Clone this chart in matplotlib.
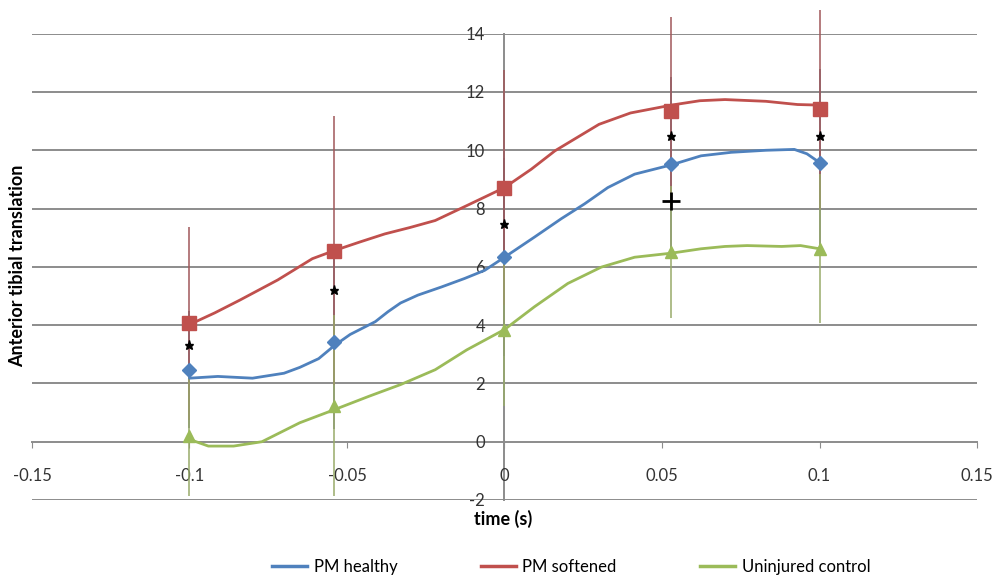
import matplotlib
matplotlib.use("Agg")
import matplotlib.pyplot as plt
from matplotlib.lines import Line2D

plt.rcParams["font.family"] = ["Lato", "DejaVu Sans"]

# sample times (s) and mean values at the markers
t_marks = [-0.1, -0.054, 0.0, 0.053, 0.1]
healthy = [2.47, 3.43, 6.33, 9.52, 9.58]
softened = [4.06, 6.56, 8.72, 11.36, 11.40]
control = [0.21, 1.24, 3.83, 6.50, 6.62]

# error bar half-widths
healthy_err = [2.0, 3.0, 3.4, 3.0, 3.2]
softened_err = [3.30, 4.60, 4.04, 3.22, 3.40]
control_err = [2.07, 3.10, 2.62, 2.27, 2.56]

# continuous mean traces
t_healthy = [-0.1, -0.091, -0.080, -0.070, -0.065, -0.059, -0.054, -0.049,
             -0.041, -0.037, -0.033, -0.0275, -0.020, -0.0127, -0.0063, 0.0,
             0.0095, 0.018, 0.0254, 0.0328, 0.0413, 0.053, 0.0624, 0.072,
             0.083, 0.092, 0.096, 0.1]
y_healthy = [2.18, 2.24, 2.18, 2.35, 2.55, 2.85, 3.30, 3.68,
             4.12, 4.46, 4.76, 5.03, 5.31, 5.60, 5.88, 6.33,
             7.02, 7.65, 8.16, 8.72, 9.18, 9.50, 9.81, 9.93,
             10.00, 10.03, 9.88, 9.58]

t_softened = [-0.1, -0.092, -0.084, -0.072, -0.061, -0.054, -0.046, -0.038,
              -0.030, -0.022, -0.012, 0.0, 0.0085, 0.016, 0.024, 0.030,
              0.040, 0.053, 0.062, 0.070, 0.083, 0.093, 0.1]
y_softened = [4.02, 4.42, 4.86, 5.55, 6.28, 6.56, 6.85, 7.13,
              7.35, 7.59, 8.10, 8.72, 9.35, 9.98, 10.50, 10.89,
              11.28, 11.55, 11.70, 11.74, 11.68, 11.57, 11.55]

t_control = [-0.1, -0.094, -0.086, -0.077, -0.065, -0.054, -0.043, -0.033,
             -0.022, -0.012, 0.0, 0.0095, 0.0201, 0.0307, 0.0413, 0.053,
             0.0624, 0.070, 0.077, 0.088, 0.094, 0.1]
y_control = [0.08, -0.15, -0.15, 0.0, 0.65, 1.10, 1.56, 1.96,
             2.47, 3.15, 3.85, 4.63, 5.43, 5.99, 6.33, 6.47,
             6.62, 6.70, 6.73, 6.70, 6.73, 6.62]

# significance marks
star_t = [-0.1, -0.054, 0.0, 0.053, 0.1]
star_y = [3.32, 5.20, 7.47, 10.49, 10.49]
plus_t = [0.053]
plus_y = [8.27]

x_ticks = [-0.15, -0.1, -0.05, 0.0, 0.05, 0.1, 0.15]
x_labels = ["-0.15", "-0.1", "-0.05", "0", "0.05", "0.1", "0.15"]
y_ticks = [-2, 0, 2, 4, 6, 8, 10, 12, 14]

BLUE = "#4F81BD"
RED = "#C0504D"
GREEN = "#9BBB59"
GRID = "#8c8c8c"

fig = plt.figure(figsize=(9.95, 5.8), dpi=100)
ax = fig.add_axes([32 / 995, 80 / 580, 945 / 995, 466.3 / 580])
ax.set_xlim(-0.15, 0.15)
ax.set_ylim(-2, 14)

# gridlines
for yv in y_ticks:
    if yv != 0:
        ax.axhline(yv, color=GRID, lw=1.4, zorder=0)

for s in ["top", "right"]:
    ax.spines[s].set_visible(False)
for s in ["left", "bottom"]:
    ax.spines[s].set_position(("data", 0))
    ax.spines[s].set_color(GRID)
    ax.spines[s].set_linewidth(1.4)
    ax.spines[s].set_zorder(0)

ax.set_xticks(x_ticks)
ax.set_xticklabels(x_labels)
ax.set_yticks(y_ticks)
ax.set_yticklabels([str(v) for v in y_ticks])
ax.tick_params(axis="x", direction="out", length=4, color=GRID, pad=15,
               labelsize=12, labelcolor="#333333")
ax.tick_params(axis="y", length=0, pad=14, labelsize=12, labelcolor="#333333")

# error bars
ax.errorbar(t_marks, healthy, yerr=healthy_err, fmt="none", ecolor="#6a6a78",
            elinewidth=1.1, capsize=0, zorder=2, clip_on=False)
ax.errorbar(t_marks, softened, yerr=softened_err, fmt="none", ecolor="#a0575a",
            elinewidth=1.1, capsize=0, zorder=2, clip_on=False)
ax.errorbar(t_marks, control, yerr=control_err, fmt="none", ecolor="#98ab6a",
            elinewidth=1.1, capsize=0, zorder=2, clip_on=False)

# mean traces
for tt, yy, c in [(t_healthy, y_healthy, BLUE), (t_softened, y_softened, RED),
                  (t_control, y_control, GREEN)]:
    ax.plot(tt, yy, color=c, lw=2.0, zorder=3, solid_capstyle="round",
            solid_joinstyle="round")

# markers
ax.plot(t_marks, healthy, "D", color=BLUE, ms=7.5, zorder=4, ls="none")
ax.plot(t_marks, softened, "s", color=RED, ms=9.5, zorder=4, ls="none")
ax.plot(t_marks, control, "^", color=GREEN, ms=9, zorder=4, ls="none")

ax.plot(star_t, star_y, "*", color="black", ms=6.5, zorder=5, ls="none")
ax.plot(plus_t, plus_y, "+", color="black", ms=13, mew=2, zorder=5, ls="none")

fig.text(503 / 995, 1 - 519 / 580, "time (s)", ha="center", va="center",
         fontsize=13, fontweight="bold")
fig.text(18 / 995, 1 - 266 / 580, "Anterior tibial translation", rotation=90,
         ha="center", va="center", fontsize=13, fontweight="bold")

handles = [
    Line2D([], [], color=BLUE, lw=2.5),
    Line2D([], [], color=RED, lw=2.5),
    Line2D([], [], color=GREEN, lw=2.5),
]
fig.legend(handles, ["PM healthy", "PM softened", "Uninjured control"],
           loc="center", bbox_to_anchor=(571 / 995, 1 - 567 / 580), ncol=3,
           frameon=False, fontsize=12, handlelength=2.1, handletextpad=0.4,
           columnspacing=5.0, borderaxespad=0, borderpad=0)

fig.savefig("out.png", dpi=100)
